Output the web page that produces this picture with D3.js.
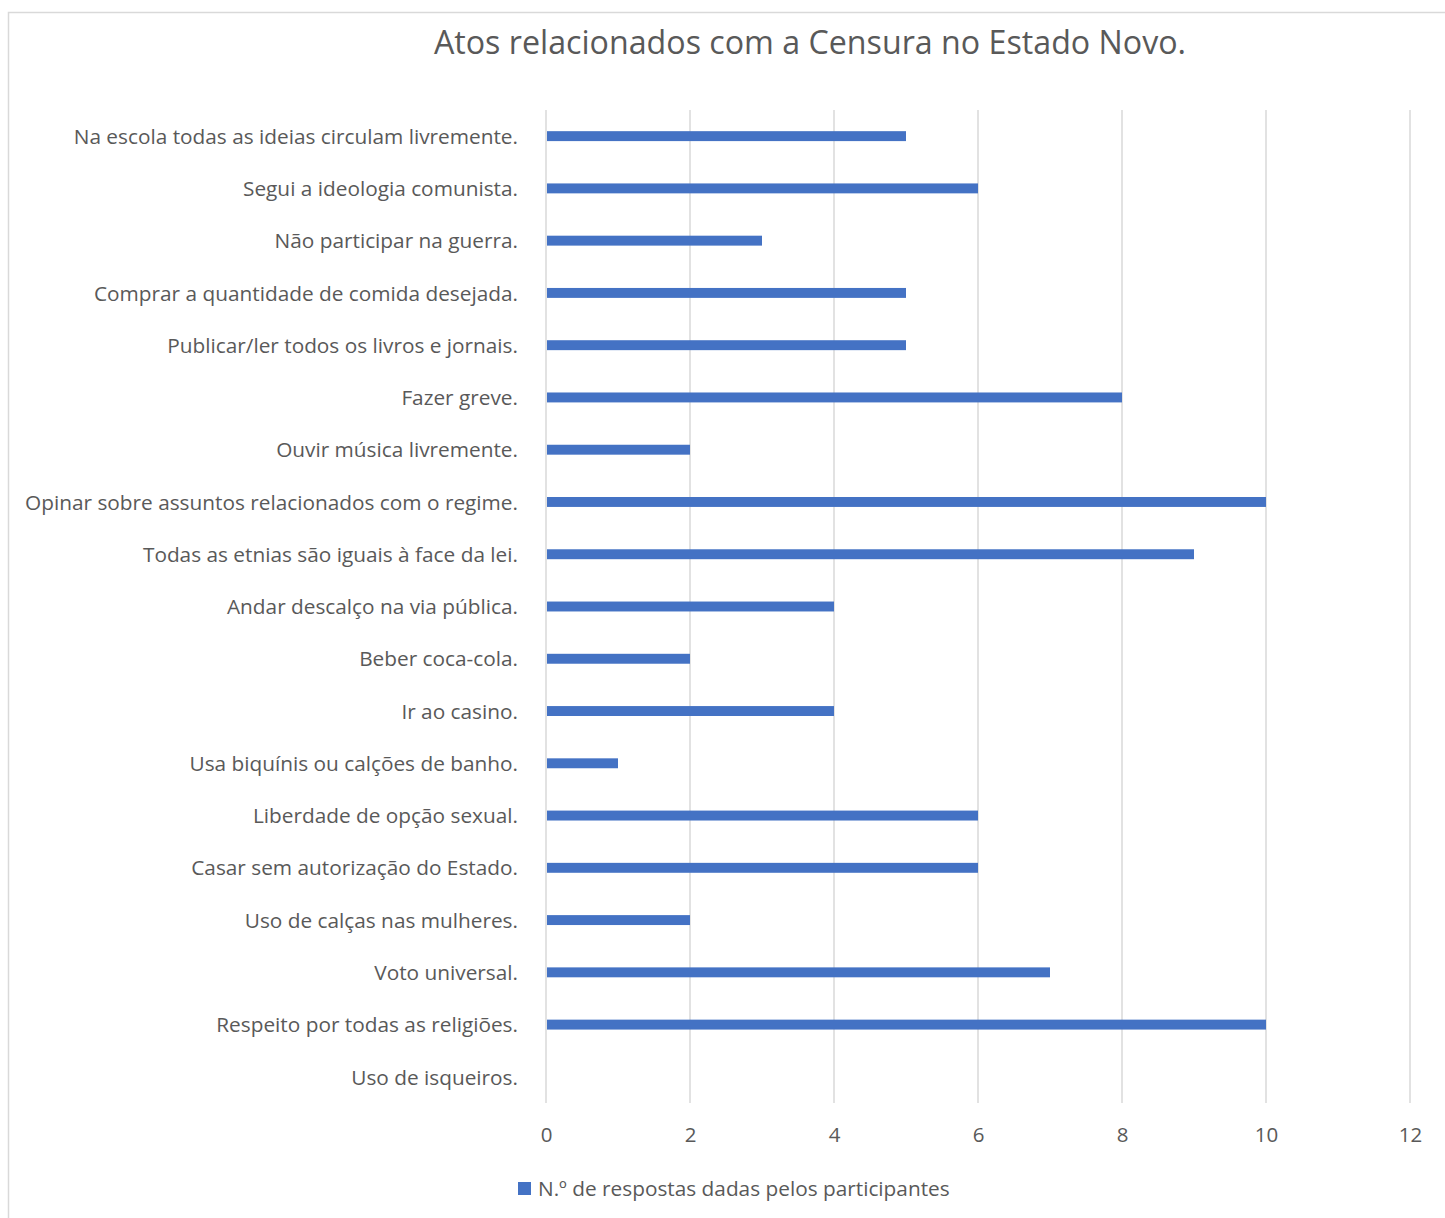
<!DOCTYPE html>
<html>
<head>
<meta charset="utf-8">
<script src="https://cdn.jsdelivr.net/npm/d3@7"></script>
<style>
  body { margin: 0; background: #fff; }
  svg text { font-family: "Open Sans", "Noto Sans", sans-serif; fill: #595959; }
</style>
</head>
<body>
<div id="chart"></div>
<script>
// chart data
var title = "Atos relacionados com a Censura no Estado Novo.";
var seriesName = "N.º de respostas dadas pelos participantes";

var categories = [
    "Na escola todas as ideias circulam livremente.",
    "Segui a ideologia comunista.",
    "Não participar na guerra.",
    "Comprar a quantidade de comida desejada.",
    "Publicar/ler todos os livros e jornais.",
    "Fazer greve.",
    "Ouvir música livremente.",
    "Opinar sobre assuntos relacionados com o regime.",
    "Todas as etnias são iguais à face da lei.",
    "Andar descalço na via pública.",
    "Beber coca-cola.",
    "Ir ao casino.",
    "Usa biquínis ou calções de banho.",
    "Liberdade de opção sexual.",
    "Casar sem autorização do Estado.",
    "Uso de calças nas mulheres.",
    "Voto universal.",
    "Respeito por todas as religiões.",
    "Uso de isqueiros."
];

var values = [5, 6, 3, 5, 5, 8, 2, 10, 9, 4, 2, 4, 1, 6, 6, 2, 7, 10, 0];

var xTicks = [0, 2, 4, 6, 8, 10, 12];

var width = 1445;
var height = 1218;
var margin = {top: 110, right: 35, bottom: 115, left: 546};

var svg = d3.select("#chart").append("svg")
    .attr("width", width)
    .attr("height", height);

// outer frame
svg.append("rect")
    .attr("x", 8.5)
    .attr("y", 12.5)
    .attr("width", width + 10)
    .attr("height", height + 10)
    .attr("fill", "none")
    .attr("stroke", "#d9d9d9")
    .attr("stroke-width", 1.5);

var x = d3.scaleLinear()
    .domain([0, 12])
    .range([margin.left, width - margin.right]);

var y = d3.scaleBand()
    .domain(categories)
    .range([margin.top, height - margin.bottom])
    .paddingInner(0.81)
    .paddingOuter(0.405);

// gridlines
svg.append("g").attr("class", "grid")
    .selectAll("line")
    .data(xTicks)
    .enter().append("line")
    .attr("x1", function(d) { return x(d); })
    .attr("x2", function(d) { return x(d); })
    .attr("y1", margin.top)
    .attr("y2", height - margin.bottom)
    .attr("stroke", "#d9d9d9")
    .attr("stroke-width", 1.5);

// bars
svg.append("g").attr("class", "bars")
    .selectAll("rect")
    .data(values)
    .enter().append("rect")
    .attr("x", x(0) + 1)
    .attr("y", function(d, i) { return y(categories[i]); })
    .attr("width", function(d) { return Math.max(0, x(d) - x(0) - 1); })
    .attr("height", y.bandwidth())
    .attr("fill", "#4472c4");

// category labels
var yAxis = d3.axisLeft(y).tickSize(0).tickPadding(28);
var gy = svg.append("g")
    .attr("transform", "translate(" + margin.left + ",1)")
    .call(yAxis);
gy.select(".domain").remove();
gy.selectAll("text")
    .style("font-size", "20.8px")
    .attr("fill", "#595959");

// value axis
var xAxis = d3.axisBottom(x).tickValues(xTicks).tickSize(0).tickPadding(24);
var gx = svg.append("g")
    .attr("transform", "translate(0," + (height - margin.bottom) + ")")
    .call(xAxis);
gx.select(".domain").remove();
gx.selectAll("text")
    .style("font-size", "20.5px")
    .attr("fill", "#595959");

// title
svg.append("text")
    .attr("x", 810)
    .attr("y", 41)
    .attr("text-anchor", "middle")
    .attr("dominant-baseline", "central")
    .style("font-size", "32.2px")
    .text(title);

// legend
var legend = svg.append("g").attr("transform", "translate(518,1188)");
legend.append("rect")
    .attr("x", 0)
    .attr("y", -6)
    .attr("width", 13)
    .attr("height", 13)
    .attr("fill", "#4472c4");
legend.append("text")
    .attr("x", 20)
    .attr("y", 0)
    .attr("dominant-baseline", "central")
    .style("font-size", "20.8px")
    .text(seriesName);
</script>
</body>
</html>
